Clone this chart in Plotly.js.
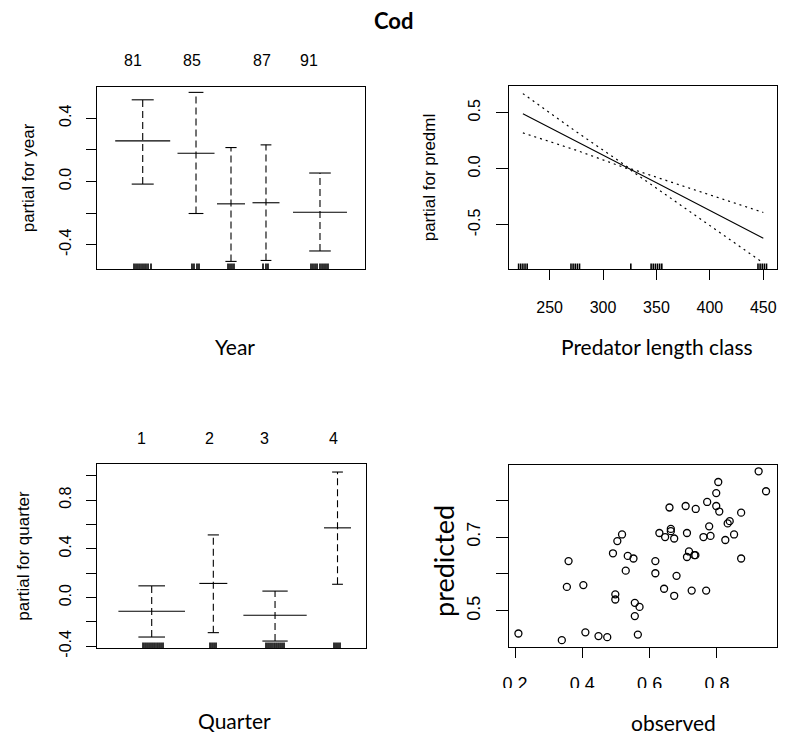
<!DOCTYPE html>
<html><head><meta charset="utf-8">
<script src="https://cdn.plot.ly/plotly-3.0.1.min.js"></script>
<style>html,body{margin:0;padding:0;background:#fff}</style>
</head><body>
<div id="chart" style="width:789px;height:738px"></div>
<script>
// ---- Year panel (factor term; x in cumulative-count units) ----
const yearTickLabels = ['81', '85', '87', '91'];
const yearTickAt = [7.25, 19.14, 33.25, 42.72];
const yearCenter = [9.21, 19.95, 27.0, 34.05, 44.93];
const yearWidth = [11.08, 7.46, 5.64, 5.44, 10.88];
const yearFit = [0.256, 0.178, -0.142, -0.135, -0.195];
const yearUpper = [0.516, 0.563, 0.214, 0.231, 0.053];
const yearLower = [-0.017, -0.203, -0.506, -0.500, -0.440];
const yearRug = [7.46, 7.86, 8.26, 8.66, 9.07, 9.47, 9.87, 10.28, 10.88,
  19.14, 19.54, 20.15, 20.55, 26.40, 26.80, 27.20, 27.60,
  33.45, 34.05, 34.45, 43.12, 43.52, 43.93, 44.33, 44.93, 45.34, 45.74, 46.14, 46.54];

// ---- Predator length panel ----
const predX = [225, 275, 325, 350, 450];
const predFit = [0.49, 0.245, -0.002, -0.125, -0.62];
const predUpper = [0.67, 0.33, 0.003, -0.075, -0.39];
const predLower = [0.32, 0.165, -0.007, -0.175, -0.84];
const predRug = [221, 223, 225, 227, 229, 270, 272, 274, 276, 278, 326,
  345, 347, 349, 351, 353, 355, 445, 447, 449, 451, 453];

// ---- Quarter panel ----
const quarterTickLabels = ['1', '2', '3', '4'];
const quarterTickAt = [8.97, 22.53, 33.57, 47.42];
const quarterCenter = [10.98, 23.35, 35.74, 48.28];
const quarterWidth = [13.37, 5.62, 12.71, 5.42];
const quarterFit = [-0.112, 0.116, -0.145, 0.572];
const quarterUpper = [0.096, 0.514, 0.053, 1.030];
const quarterLower = [-0.324, -0.288, -0.357, 0.109];
const quarterRug = [9.24, 9.64, 10.04, 10.44, 10.84, 11.24, 11.64, 12.05, 12.45, 12.85, 13.25,
  22.69, 23.09, 23.49, 23.89,
  33.93, 34.33, 34.73, 35.13, 35.54, 35.94, 36.34, 36.74, 37.14, 37.54,
  47.58, 47.98, 48.38, 48.78];

// ---- Observed vs predicted ----
const observed = [0.210,0.339,0.359,0.354,0.403,0.409,0.448,0.474,0.491,0.498,
  0.498,0.504,0.518,0.529,0.535,0.552,0.556,0.556,0.570,0.565,
  0.617,0.617,0.629,0.643,0.646,0.659,0.663,0.663,0.673,0.673,
  0.680,0.707,0.711,0.711,0.717,0.725,0.733,0.736,0.737,0.760,
  0.768,0.771,0.777,0.781,0.798,0.798,0.804,0.807,0.825,0.832,
  0.838,0.851,0.872,0.872,0.924,0.946];
const predicted = [0.439,0.421,0.635,0.565,0.570,0.442,0.432,0.429,0.656,0.545,
  0.531,0.689,0.707,0.609,0.649,0.642,0.522,0.486,0.511,0.436,
  0.635,0.602,0.711,0.560,0.700,0.780,0.722,0.716,0.541,0.696,
  0.595,0.784,0.711,0.646,0.661,0.555,0.651,0.651,0.776,0.700,
  0.555,0.795,0.729,0.703,0.784,0.819,0.849,0.769,0.692,0.737,
  0.743,0.707,0.766,0.642,0.878,0.824];

// ---------- helpers ----------
const BLACK = '#000';
const W = 789, H = 738;
const px = v => v / W;           // horizontal pixel -> paper
const py = v => 1 - v / H;       // vertical pixel -> paper

function factorTraces(center, width, fit, upper, lower, xa, ya) {
  const fx = [], fy = [], dx = [], dy = [], cx = [], cy = [];
  for (let i = 0; i < center.length; i++) {
    const c = center[i], hw = width[i] / 2, cap = width[i] * 0.2;
    fx.push(c - hw, c + hw, null); fy.push(fit[i], fit[i], null);
    dx.push(c, c, null); dy.push(lower[i], upper[i], null);
    cx.push(c - cap, c + cap, null, c - cap, c + cap, null);
    cy.push(upper[i], upper[i], null, lower[i], lower[i], null);
  }
  const base = {type: 'scatter', mode: 'lines', xaxis: xa, yaxis: ya, hoverinfo: 'skip', showlegend: false};
  return [
    Object.assign({}, base, {x: dx, y: dy, line: {color: BLACK, width: 1.1, dash: '7px,4px'}}),
    Object.assign({}, base, {x: fx, y: fy, line: {color: BLACK, width: 1.1}}),
    Object.assign({}, base, {x: cx, y: cy, line: {color: BLACK, width: 1.1}})
  ];
}

function rugShapes(vals, xa, ya) {
  return vals.map(v => ({type: 'line', xref: xa, yref: ya + ' domain', x0: v, x1: v, y0: 0, y1: 0.03,
    line: {color: BLACK, width: 1.6}, layer: 'above'}));
}

const traces = [];
traces.push(...factorTraces(yearCenter, yearWidth, yearFit, yearUpper, yearLower, 'x', 'y'));
traces.push({type: 'scatter', mode: 'lines', x: predX, y: predFit, xaxis: 'x2', yaxis: 'y2',
  line: {color: BLACK, width: 1.1}, hoverinfo: 'skip', showlegend: false});
traces.push({type: 'scatter', mode: 'lines', x: predX, y: predUpper, xaxis: 'x2', yaxis: 'y2',
  line: {color: BLACK, width: 1.2, dash: '2px,4px'}, hoverinfo: 'skip', showlegend: false});
traces.push({type: 'scatter', mode: 'lines', x: predX, y: predLower, xaxis: 'x2', yaxis: 'y2',
  line: {color: BLACK, width: 1.2, dash: '2px,4px'}, hoverinfo: 'skip', showlegend: false});
traces.push(...factorTraces(quarterCenter, quarterWidth, quarterFit, quarterUpper, quarterLower, 'x3', 'y3'));
traces.push({type: 'scatter', mode: 'markers', x: observed, y: predicted, xaxis: 'x4', yaxis: 'y4',
  marker: {symbol: 'circle-open', size: 7, color: BLACK, line: {width: 1.3, color: BLACK}},
  hoverinfo: 'skip', showlegend: false});

const tickFont = {family: 'Liberation Sans, Arial, sans-serif', size: 16, color: BLACK};
const axBase = {showline: true, mirror: true, linecolor: BLACK, linewidth: 1, showgrid: false,
  zeroline: false, ticks: 'outside', ticklen: 10, tickwidth: 1, tickcolor: BLACK, tickfont: tickFont};
const yBase = Object.assign({}, axBase, {tickangle: -90, ticklabelstandoff: 9});
const xBase = Object.assign({}, axBase, {ticklabelstandoff: 14});
const ytitle = (t, s) => ({text: t, font: {family: 'Liberation Sans, Arial, sans-serif', size: 17, color: BLACK}, standoff: s});

const layout = {
  width: W, height: H, margin: {l: 0, r: 0, t: 0, b: 0}, paper_bgcolor: '#fff', plot_bgcolor: '#fff',
  showlegend: false,
  xaxis: Object.assign({}, axBase, {domain: [px(97), px(365)], anchor: 'y', range: [0, 54],
    ticks: '', showticklabels: false}),
  yaxis: Object.assign({}, yBase, {domain: [py(269), py(87)], anchor: 'x', range: [-0.554, 0.597],
    tickvals: [-0.4, -0.2, 0, 0.2, 0.4], ticktext: ['-0.4', '', '0.0', '', '0.4'],
    title: ytitle('partial for year', 17)}),
  xaxis2: Object.assign({}, xBase, {domain: [px(509), px(777)], anchor: 'y2', range: [212, 462.8],
    tickvals: [250, 300, 350, 400, 450]}),
  yaxis2: Object.assign({}, yBase, {domain: [py(269), py(86)], anchor: 'x2', range: [-0.894, 0.738],
    ticklen: 12, ticklabelstandoff: 10,
    tickvals: [-0.5, 0, 0.5], ticktext: ['-0.5', '0.0', '0.5'], title: ytitle('partial for predml', 25)}),
  xaxis3: Object.assign({}, axBase, {domain: [px(97), px(366)], anchor: 'y3', range: [0, 54],
    ticks: '', showticklabels: false}),
  yaxis3: Object.assign({}, yBase, {domain: [py(648), py(464)], anchor: 'x3', range: [-0.414, 1.096],
    tickvals: [-0.4, -0.2, 0, 0.2, 0.4, 0.6, 0.8, 1.0], ticktext: ['-0.4', '', '0.0', '', '0.4', '', '0.8', ''],
    title: ytitle('partial for quarter', 22)}),
  xaxis4: Object.assign({}, xBase, {domain: [px(509), px(777)], anchor: 'y4', range: [0.182, 0.9786],
    tickvals: [0.2, 0.4, 0.6, 0.8], ticktext: ['0.2', '0.4', '0.6', '0.8'], ticklabelstandoff: 10,
    tickfont: Object.assign({}, tickFont, {size: 18})}),
  yaxis4: Object.assign({}, yBase, {domain: [py(647), py(465)], anchor: 'x4', range: [0.4024, 0.895],
    tickvals: [0.5, 0.6, 0.7, 0.8], ticktext: ['0.5', '', '0.7', ''], ticklen: 12,
    tickfont: Object.assign({}, tickFont, {size: 18})}),
  shapes: [].concat(
    rugShapes(yearRug, 'x', 'y'),
    rugShapes(predRug, 'x2', 'y2'),
    rugShapes(quarterRug, 'x3', 'y3'),
    [{type: 'rect', xref: 'paper', yref: 'paper', x0: px(470), x1: 1, y0: py(702), y1: py(688),
      fillcolor: '#fff', line: {width: 0}, layer: 'above'}]
  ),
  annotations: []
};

const lab = (t, x, y, size, extra) => Object.assign({text: t, xref: 'paper', yref: 'paper', x: px(x), y: py(y),
  xanchor: 'center', yanchor: 'middle', showarrow: false,
  font: {family: 'Lato, sans-serif', size: size, color: BLACK}}, extra || {});

layout.annotations.push(lab('<b>Cod</b>', 393, 21, 22));
layout.annotations.push(lab('Year', 235, 346, 21));
layout.annotations.push(lab('Predator length class', 657, 346, 21));
layout.annotations.push(lab('Quarter', 235, 720, 21));
layout.annotations.push(lab('observed', 673, 722, 21));
layout.annotations.push(lab('predicted', 443, 561, 27, {textangle: -90}));

yearTickLabels.forEach((t, i) => layout.annotations.push({text: t, xref: 'x', yref: 'paper', x: yearTickAt[i],
  y: py(60), xanchor: 'center', yanchor: 'middle', showarrow: false, font: tickFont}));
quarterTickLabels.forEach((t, i) => layout.annotations.push({text: t, xref: 'x3', yref: 'paper', x: quarterTickAt[i],
  y: py(438), xanchor: 'center', yanchor: 'middle', showarrow: false, font: tickFont}));

Plotly.newPlot('chart', traces, layout, {displayModeBar: false, staticPlot: true});
</script>
</body></html>
